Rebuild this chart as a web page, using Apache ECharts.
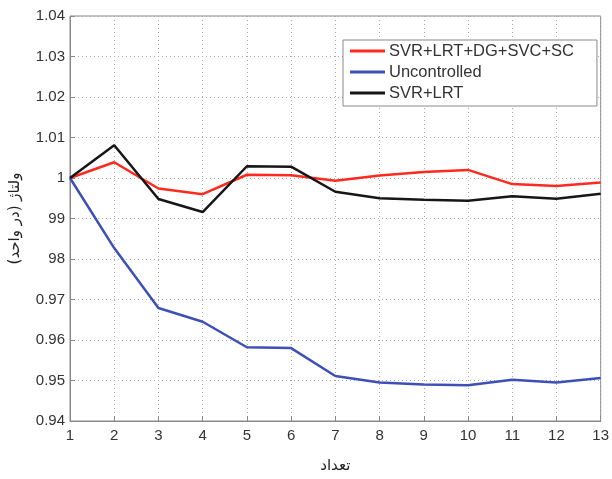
<!DOCTYPE html>
<html><head><meta charset="utf-8">
<script src="https://cdn.jsdelivr.net/npm/echarts@6/dist/echarts.min.js"></script>
<style>html,body{margin:0;padding:0;background:#fff}#c{width:612px;height:479px}</style>
</head><body><div id="c"></div>
<script>
const xValues = [1,2,3,4,5,6,7,8,9,10,11,12,13];
const seriesNames = ['SVR+LRT+DG+SVC+SC','Uncontrolled','SVR+LRT'];
const redValues = [1.0000,1.0039,0.9974,0.9960,1.0008,1.0007,0.9993,1.0006,1.0015,1.0020,0.9985,0.9980,0.9989];
const blueValues = [1.0000,0.9827,0.9679,0.9645,0.9582,0.9580,0.9511,0.9495,0.9490,0.9488,0.9502,0.9495,0.9506];
const blackValues = [1.0000,1.0081,0.9948,0.9916,1.0029,1.0028,0.9966,0.9950,0.9946,0.9944,0.9955,0.9949,0.9961];
const yTickLabels = ['0.94','0.95','0.96','0.97','98','99','1','1.01','1.02','1.03','1.04'];
const yName = 'ولتاژ (در واحد)';
const xName = 'تعداد';

const chart = echarts.init(document.getElementById('c'));
const pair = v => v.map((y,i)=>[xValues[i], y]);
const font = 'Liberation Sans, Arial, sans-serif';
const mk = (name, data, color) => ({
  name, type:'line', data: pair(data), symbol:'none', smooth:false,
  lineStyle:{color, width:2.5}, itemStyle:{color}, z:3
});
chart.setOption({
  animation:false,
  grid:{left:70, right:10, top:16, bottom:52, show:true, borderColor:'#8a8a8a', borderWidth:1},
  legend:{
    orient:'vertical', left:343, top:40,
    data: seriesNames, icon:'rect', itemWidth:35, itemHeight:3, itemGap:3,
    padding:[2,23,4,7], borderColor:'#8a8a8a', borderWidth:1, backgroundColor:'#fff',
    textStyle:{fontFamily:font, fontSize:16.5, color:'#333', lineHeight:18, padding:[0,0,0,-1]}
  },
  xAxis:{
    type:'value', min:1, max:13, interval:1,
    name:xName, nameLocation:'middle', nameGap:38,
    nameTextStyle:{fontFamily:'DejaVu Sans', fontSize:15, color:'#222'},
    axisLine:{show:true, lineStyle:{color:'#8a8a8a'}},
    axisTick:{show:true, inside:true, length:5, lineStyle:{color:'#8a8a8a'}},
    axisLabel:{fontFamily:font, fontSize:15, color:'#333', margin:7},
    splitLine:{show:true, lineStyle:{color:'#aaaaaa', type:[1,3], width:1}}
  },
  yAxis:{
    type:'value', min:0.94, max:1.04, interval:0.01,
    name:yName, nameLocation:'middle', nameGap:47, nameRotate:90,
    nameTextStyle:{fontFamily:'DejaVu Sans', fontSize:15, color:'#222'},
    axisLine:{show:true, lineStyle:{color:'#8a8a8a'}},
    axisTick:{show:true, inside:true, length:5, lineStyle:{color:'#8a8a8a'}},
    axisLabel:{fontFamily:font, fontSize:15, color:'#333', margin:5,
      formatter: v => yTickLabels[Math.round((v-0.94)/0.01)] || ''},
    splitLine:{show:true, lineStyle:{color:'#aaaaaa', type:[1,3], width:1}}
  },
  series:[
    mk(seriesNames[0], redValues, '#ff2a1f'),
    mk(seriesNames[1], blueValues, '#3d50b8'),
    mk(seriesNames[2], blackValues, '#161616')
  ]
});
</script></body></html>
